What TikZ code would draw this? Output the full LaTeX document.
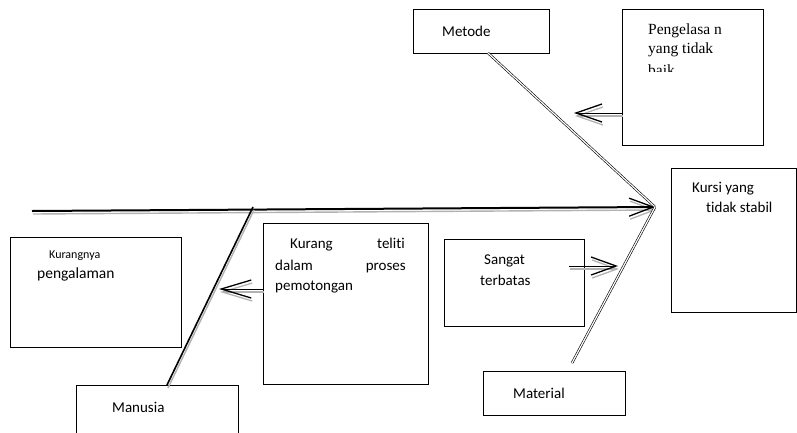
\documentclass[tikz,border=0pt]{standalone}
\usepackage{fontspec}
\setmainfont[Ligatures={NoCommon}]{Carlito}
\newfontfamily\serifface{Liberation Serif}
\usetikzlibrary{arrows.meta}
\begin{document}
\begin{tikzpicture}[x=1pt,y=-1pt,
  box/.style={draw, line width=0.7pt, inner sep=0, anchor=north west},
  txt/.style={inner sep=0, anchor=base west, font=\fontsize{15}{18}\selectfont},
  sertxt/.style={inner sep=0, anchor=base west, font=\serifface\fontsize{15.5}{18}\selectfont},
  shadow/.style={preaction={draw=black!30, line width=1.4pt, transform canvas={xshift=1pt,yshift=-3pt}}},
  barb/.style={-{Straight Barb[length=#1,width=18pt,line width=1.3pt]}},
  bone/.style={double, double distance=1.2pt, line width=0.6pt},
]
\useasboundingbox (0,0) rectangle (797,432);
% boxes
\node[box, minimum width=136pt, minimum height=44pt] (metode) at (413,9) {};
\node[box, minimum width=141pt, minimum height=136pt] (peng) at (622,9) {};
\node[box, minimum width=125pt, minimum height=144pt] (kursi) at (671,168) {};
\node[box, minimum width=171pt, minimum height=110pt] (kurang) at (10,237) {};
\node[box, minimum width=162pt, minimum height=60pt] (manusia) at (76,385) {};
\node[box, minimum width=165pt, minimum height=161pt] (teliti) at (263,223) {};
\node[box, minimum width=140pt, minimum height=87pt] (sangat) at (444,239) {};
\node[box, minimum width=142pt, minimum height=44pt] (material) at (483,371) {};
% texts
\node[txt] (tmetode) at (442,36) {Metode};
\begin{scope}
\clip (622,9) rectangle (763,71);
\node[sertxt] (tp1) at (648,34) {Pengelasa n};
\node[sertxt] (tp2) at (648,53) {yang tidak};
\node[sertxt] (tp3) at (648,75) {baik};
\end{scope}
\node[txt] (tk1) at (692,192) {Kursi yang};
\node[txt] (tk2) at (706,212) {tidak stabil};
\node[txt, font=\fontsize{12}{14}\selectfont] (tq1) at (49,258) {Kurangnya};
\node[txt, font=\fontsize{15.5}{18}\selectfont] (tq2) at (37,278) {pengalaman};
\node[txt] (tt1) at (290,248) {Kurang};
\node[txt, anchor=base east] (tt2) at (405,248) {teliti};
\node[txt] (tt3) at (275,270) {dalam};
\node[txt, anchor=base east] (tt4) at (406,270) {proses};
\node[txt] (tt5) at (275,290) {pemotongan};
\node[txt] (ts1) at (484,264) {Sangat};
\node[txt] (ts2) at (480,285) {terbatas};
\node[txt] (tmat) at (513,398) {Material};
\node[txt] (tman) at (112,412) {Manusia};
% connector points
\coordinate (tail) at (32,211);
\coordinate (head) at (655,207);
\coordinate (mtop) at (488,53);
\coordinate (mbot) at (572,363);
\coordinate (manA) at (253,207);
\coordinate (manB) at (167,385);
\coordinate (pTip) at (574,113);
\coordinate (tTip) at (219,289);
\coordinate (sStart) at (569,266);
\coordinate (sTip) at (618,266);
% spine
\draw[shadow, line width=2pt, barb=24pt] (tail) -- (head);
% bones
\draw[bone] (mtop) -- (head);
\draw[bone] (mbot) -- (head);
\draw[shadow, line width=1.6pt] (manA) -- (manB);
% cause arrows
\draw[shadow, line width=1pt, barb=26pt] (peng.west |- pTip) -- (pTip);
\draw[shadow, line width=1pt, barb=30pt] (teliti.west |- tTip) -- (tTip);
\draw[shadow, line width=1pt, barb=25pt] (sStart) -- (sTip);
\end{tikzpicture}
\end{document}
